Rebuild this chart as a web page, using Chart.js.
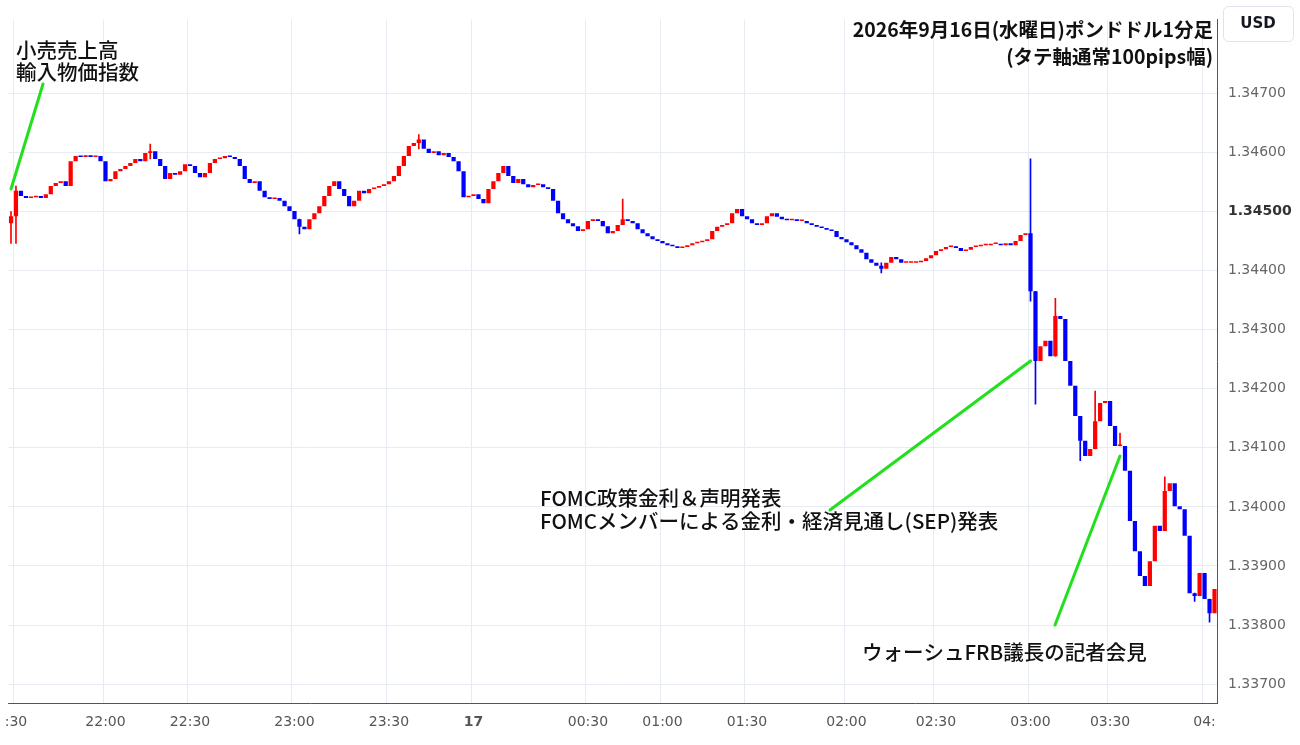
<!DOCTYPE html>
<html><head><meta charset="utf-8">
<script src="https://cdn.jsdelivr.net/npm/chart.js@4"></script>
<style>html,body{margin:0;padding:0;background:#fff;}#wrap{position:relative;width:1300px;height:745px;}</style>
</head><body><div id="wrap"><canvas id="c" width="1300" height="745"></canvas></div>
<script>
// closes in pips above 1.33000 (one candle per ~1.6 min)
const closesPips = [149.2,153.5,152.6,152.3,152.4,152.6,152.3,152.9,154.3,154.8,155.1,154.3,158.5,159.4,159.2,159.5,159.2,159.4,158.5,155.1,
155.5,156.8,157.2,157.7,158.2,158.9,158.5,159.9,160.2,158.9,157.7,155.5,156.5,156.2,156.8,158.0,157.7,156.5,155.8,156.5,
158.2,158.9,159.0,159.4,159.2,158.9,157.7,155.5,154.8,155.1,153.5,152.4,152.1,152.3,151.8,150.9,150.1,148.7,147.4,147.0,
148.7,149.7,150.9,152.6,154.3,155.1,153.8,152.6,150.9,151.8,153.5,153.1,153.8,154.0,154.3,154.6,155.1,156.0,157.7,159.4,
161.1,161.6,162.2,160.6,159.9,160.2,159.5,159.9,159.2,158.5,156.8,152.4,152.6,152.9,152.1,151.4,153.8,155.1,156.5,157.7,
156.0,154.8,155.5,154.6,154.1,154.5,154.6,154.1,153.8,151.8,149.7,148.7,148.0,147.5,146.7,147.0,148.4,148.7,148.4,147.5,
146.3,146.7,147.7,148.7,148.4,148.0,147.0,146.3,145.8,145.3,145.0,144.6,144.3,144.1,143.8,144.0,144.3,144.6,144.8,145.0,
145.3,146.7,147.4,147.7,148.0,149.7,150.4,149.2,148.7,148.0,147.7,148.0,149.2,149.7,149.1,148.7,148.5,148.7,148.4,148.4,
148.0,147.7,147.4,147.2,146.9,146.7,145.7,145.3,144.8,144.3,143.6,143.0,141.9,141.3,140.8,140.3,141.3,142.3,141.9,141.3,
141.3,141.3,141.4,141.6,142.1,142.6,143.3,143.6,144.0,144.1,143.8,143.3,143.5,144.0,144.1,144.3,144.3,144.5,144.5,144.3,
144.6,144.3,145.0,146.0,146.3,136.5,124.7,127.2,128.1,125.5,132.3,131.8,124.7,120.5,115.4,111.2,108.6,109.8,114.5,117.6,
117.9,113.7,110.3,110.3,106.1,97.6,92.5,88.3,86.6,90.8,96.8,95.9,102.7,104.0,100.1,99.6,95.1,85.4,84.9,88.8,
84.4,82.0,86.1];
const firstOpenPips = 148.0;
// notable wicks: [candle index, high pips, low pips]
const wicks = [[0,150.0,144.6],[1,154.3,144.6],[28,161.4,158.9],[58,148.7,146.2],[82,163.0,160.6],[123,152.1,148.4],
[175,141.3,139.6],[205,158.9,134.8],[206,136.5,117.4],[210,135.3,125.5],[215,111.2,107.8],[218,119.6,109.8],
[223,112.5,110.3],[232,105.1,96.8],[238,85.4,84.0],[241,84.4,80.5]];
const tickMarks = {1:':30',19:'22:00',36:'22:30',57:'23:00',76:'23:30',93:'17',116:'00:30',131:'01:00',148:'01:30',168:'02:00',186:'02:30',205:'03:00',221:'03:30',240:'04:'};
const yTicks = [1.337,1.338,1.339,1.340,1.341,1.342,1.343,1.344,1.345,1.346,1.347];

const P = p => 1.33 + p/10000;
const labels = closesPips.map((_,i)=>String(i));
const bodies = closesPips.map((c,i)=>{const o=i===0?firstOpenPips:closesPips[i-1];return [P(o),P(c)];});
const cols = closesPips.map((c,i)=>{const o=i===0?firstOpenPips:closesPips[i-1];return c>=o?'#ff0000':'#0000ff';});
const wickData = closesPips.map(()=>null);
wicks.forEach(([i,h,l])=>{wickData[i]=[P(l),P(h)];});
const FONT="'Noto Sans CJK JP','Noto Sans',sans-serif";
const AX="'DejaVu Sans',sans-serif";
const isCur = ctx => !!(ctx && ctx.tick && Math.abs(ctx.tick.value-1.345)<1e-6);

const annot = {id:'annot',afterDraw(ch){
  const g=ch.ctx,xs=ch.scales.x,ys=ch.scales.y;
  g.save();
  g.strokeStyle='#22e01e';g.lineWidth=3;g.lineCap='round';
  const line=(i,p,x2,y2)=>{g.beginPath();g.moveTo(xs.getPixelForValue(i),ys.getPixelForValue(P(p)));g.lineTo(x2,y2);g.stroke();};
  line(0,153.8,43,84);
  line(205,124.7,830,510);
  line(223,108.6,1055,625);
  g.fillStyle='#111';g.textBaseline='middle';
  g.font='500 20.5px '+FONT;
  g.fillText('小売売上高',16,50);g.fillText('輸入物価指数',16,72);
  g.fillText('FOMC政策金利＆声明発表',540,498);
  g.fillText('FOMCメンバーによる金利・経済見通し(SEP)発表',540,521);
  g.fillText('ウォーシュFRB議長の記者会見',862,652);
  g.font='bold 19.5px '+FONT;g.textAlign='right';
  g.fillText('2026年9月16日(水曜日)ポンドドル1分足',1213,30);
  g.fillText('(タテ軸通常100pips幅)',1213,57);
  g.textAlign='center';g.strokeStyle='#e0e3eb';g.lineWidth=1;
  g.beginPath();g.roundRect(1223.5,6.5,70,35,5);g.stroke();
  g.font='600 15px '+AX;g.fillStyle='#131722';g.fillText('USD',1258,24);
  g.restore();
}};

new Chart(document.getElementById('c'),{
  type:'bar',
  data:{labels,datasets:[
    {data:wickData,backgroundColor:cols,barThickness:1,grouped:false,order:2},
    {data:bodies,backgroundColor:cols,barPercentage:1,categoryPercentage:0.85,minBarLength:1.5,grouped:false,order:1}
  ]},
  options:{responsive:false,animation:false,
    layout:{padding:{left:0,right:0,top:0,bottom:3}},
    plugins:{legend:{display:false},tooltip:{enabled:false}},
    scales:{
      x:{offset:true,grid:{color:ctx=>tickMarks[ctx.index]!==undefined?'#e6ecf2':'rgba(0,0,0,0)',drawTicks:false},
        border:{color:'#555'},
        ticks:{autoSkip:false,maxRotation:0,padding:11,color:'#555',
          font:ctx=>({family:AX,size:14,weight:(ctx&&ctx.index===93)?'bold':'normal'}),
          callback:(v,i)=>tickMarks[i]||''}},
      y:{position:'right',min:1.336677,max:1.348251,afterBuildTicks:s=>{s.ticks=yTicks.map(v=>({value:v}));},
        afterFit:s=>{s.width=83;},
        grid:{color:'#e6ecf2',drawTicks:false},border:{color:'#555'},
        ticks:{padding:11,color:ctx=>isCur(ctx)?'#333':'#666',
          font:ctx=>({family:AX,size:14,weight:isCur(ctx)?'bold':'normal'}),
          callback:v=>v.toFixed(5)}}
    }},
  plugins:[annot]
});
</script></body></html>
